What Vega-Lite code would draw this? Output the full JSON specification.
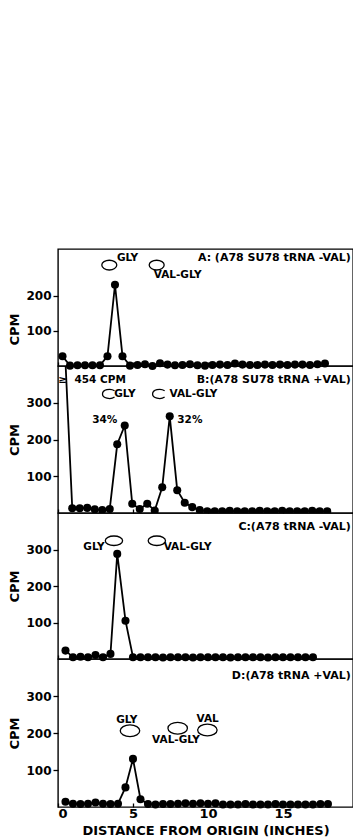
{
  "$schema": "https://vega.github.io/schema/vega-lite/v6.json",
  "autosize": {"type": "pad"},
  "padding": {"left": 8, "top": 248, "right": 0, "bottom": 0},
  "background": "white",
  "spacing": 0,
  "bounds": "flush",
  "datasets": {
    "a": [
      {"x": 0.3, "cpm": 28}, {"x": 0.8, "cpm": 1}, {"x": 1.3, "cpm": 2}, {"x": 1.8, "cpm": 2}, {"x": 2.3, "cpm": 2}, {"x": 2.8, "cpm": 2},
      {"x": 3.3, "cpm": 28}, {"x": 3.8, "cpm": 232}, {"x": 4.3, "cpm": 28}, {"x": 4.8, "cpm": 1}, {"x": 5.3, "cpm": 3}, {"x": 5.8, "cpm": 5},
      {"x": 6.3, "cpm": 0}, {"x": 6.8, "cpm": 8}, {"x": 7.3, "cpm": 4}, {"x": 7.8, "cpm": 2}, {"x": 8.3, "cpm": 3}, {"x": 8.8, "cpm": 5},
      {"x": 9.3, "cpm": 2}, {"x": 9.8, "cpm": 1}, {"x": 10.3, "cpm": 3}, {"x": 10.8, "cpm": 4}, {"x": 11.3, "cpm": 3}, {"x": 11.8, "cpm": 7},
      {"x": 12.3, "cpm": 4}, {"x": 12.8, "cpm": 3}, {"x": 13.3, "cpm": 3}, {"x": 13.8, "cpm": 4}, {"x": 14.3, "cpm": 3}, {"x": 14.8, "cpm": 4},
      {"x": 15.3, "cpm": 3}, {"x": 15.8, "cpm": 4}, {"x": 16.3, "cpm": 4}, {"x": 16.8, "cpm": 3}, {"x": 17.3, "cpm": 5}, {"x": 17.8, "cpm": 7}
    ],
    "b": [
      {"x": 0.45, "cpm": 454}, {"x": 0.95, "cpm": 13}, {"x": 1.45, "cpm": 13}, {"x": 1.95, "cpm": 14}, {"x": 2.45, "cpm": 10}, {"x": 2.95, "cpm": 8},
      {"x": 3.45, "cpm": 11}, {"x": 3.95, "cpm": 187}, {"x": 4.45, "cpm": 238}, {"x": 4.95, "cpm": 25}, {"x": 5.45, "cpm": 11}, {"x": 5.95, "cpm": 25},
      {"x": 6.45, "cpm": 7}, {"x": 6.95, "cpm": 70}, {"x": 7.45, "cpm": 263}, {"x": 7.95, "cpm": 62}, {"x": 8.45, "cpm": 28}, {"x": 8.95, "cpm": 16},
      {"x": 9.45, "cpm": 8}, {"x": 9.95, "cpm": 5}, {"x": 10.45, "cpm": 5}, {"x": 10.95, "cpm": 5}, {"x": 11.45, "cpm": 6}, {"x": 11.95, "cpm": 5},
      {"x": 12.45, "cpm": 5}, {"x": 12.95, "cpm": 5}, {"x": 13.45, "cpm": 6}, {"x": 13.95, "cpm": 5}, {"x": 14.45, "cpm": 5}, {"x": 14.95, "cpm": 6},
      {"x": 15.45, "cpm": 5}, {"x": 15.95, "cpm": 5}, {"x": 16.45, "cpm": 5}, {"x": 16.95, "cpm": 6}, {"x": 17.45, "cpm": 5}, {"x": 17.95, "cpm": 5}
    ],
    "c": [
      {"x": 0.5, "cpm": 23}, {"x": 1.0, "cpm": 5}, {"x": 1.5, "cpm": 6}, {"x": 2.0, "cpm": 5}, {"x": 2.5, "cpm": 11}, {"x": 3.0, "cpm": 5},
      {"x": 3.5, "cpm": 14}, {"x": 3.95, "cpm": 288}, {"x": 4.5, "cpm": 105}, {"x": 5.0, "cpm": 5}, {"x": 5.5, "cpm": 5}, {"x": 6.0, "cpm": 5},
      {"x": 6.5, "cpm": 5}, {"x": 7.0, "cpm": 4}, {"x": 7.5, "cpm": 5}, {"x": 8.0, "cpm": 5}, {"x": 8.5, "cpm": 5}, {"x": 9.0, "cpm": 4},
      {"x": 9.5, "cpm": 5}, {"x": 10.0, "cpm": 5}, {"x": 10.5, "cpm": 5}, {"x": 11.0, "cpm": 5}, {"x": 11.5, "cpm": 4}, {"x": 12.0, "cpm": 5},
      {"x": 12.5, "cpm": 5}, {"x": 13.0, "cpm": 5}, {"x": 13.5, "cpm": 5}, {"x": 14.0, "cpm": 4}, {"x": 14.5, "cpm": 5}, {"x": 15.0, "cpm": 5},
      {"x": 15.5, "cpm": 5}, {"x": 16.0, "cpm": 5}, {"x": 16.5, "cpm": 5}, {"x": 17.0, "cpm": 5}
    ],
    "d": [
      {"x": 0.5, "cpm": 14}, {"x": 1.0, "cpm": 9}, {"x": 1.5, "cpm": 8}, {"x": 2.0, "cpm": 9}, {"x": 2.5, "cpm": 12}, {"x": 3.0, "cpm": 9},
      {"x": 3.5, "cpm": 8}, {"x": 4.0, "cpm": 9}, {"x": 4.5, "cpm": 53}, {"x": 5.0, "cpm": 130}, {"x": 5.5, "cpm": 21}, {"x": 6.0, "cpm": 8},
      {"x": 6.5, "cpm": 7}, {"x": 7.0, "cpm": 8}, {"x": 7.5, "cpm": 8}, {"x": 8.0, "cpm": 9}, {"x": 8.5, "cpm": 10}, {"x": 9.0, "cpm": 9},
      {"x": 9.5, "cpm": 10}, {"x": 10.0, "cpm": 9}, {"x": 10.5, "cpm": 10}, {"x": 11.0, "cpm": 7}, {"x": 11.5, "cpm": 7}, {"x": 12.0, "cpm": 7},
      {"x": 12.5, "cpm": 8}, {"x": 13.0, "cpm": 7}, {"x": 13.5, "cpm": 7}, {"x": 14.0, "cpm": 7}, {"x": 14.5, "cpm": 8}, {"x": 15.0, "cpm": 7},
      {"x": 15.5, "cpm": 7}, {"x": 16.0, "cpm": 7}, {"x": 16.5, "cpm": 7}, {"x": 17.0, "cpm": 7}, {"x": 17.5, "cpm": 8}, {"x": 18.0, "cpm": 8}
    ],
    "a_txt": [
      {"x": 4.64, "cpm": 309, "label": "GLY"},
      {"x": 7.98, "cpm": 259, "label": "VAL-GLY"}
    ],
    "a_spot": [{"x": 3.42, "cpm": 288}, {"x": 6.58, "cpm": 288}],
    "b_txt": [
      {"x": 0.31, "cpm": 363, "label": "≥"},
      {"x": 2.81, "cpm": 363, "label": "454 CPM"},
      {"x": 4.46, "cpm": 324, "label": "GLY"},
      {"x": 9.03, "cpm": 324, "label": "VAL-GLY"},
      {"x": 3.12, "cpm": 252, "label": "34%"},
      {"x": 8.79, "cpm": 252, "label": "32%"}
    ],
    "b_spot": [{"x": 3.42, "cpm": 324}, {"x": 6.76, "cpm": 324}],
    "c_txt": [
      {"x": 2.4, "cpm": 306, "label": "GLY"},
      {"x": 8.64, "cpm": 306, "label": "VAL-GLY"}
    ],
    "c_spot": [{"x": 3.73, "cpm": 324}, {"x": 6.59, "cpm": 324}],
    "d_txt": [
      {"x": 4.59, "cpm": 235, "label": "GLY"},
      {"x": 7.87, "cpm": 181, "label": "VAL-GLY"},
      {"x": 9.98, "cpm": 237, "label": "VAL"}
    ],
    "d_spot": [{"x": 4.8, "cpm": 206}, {"x": 7.98, "cpm": 213}, {"x": 9.96, "cpm": 208}],
    "titles": [
      {"panel": "A", "x": 19.53, "cpm": 309, "label": "A: (A78 SU78 tRNA -VAL)"},
      {"panel": "B", "x": 19.53, "cpm": 363, "label": "B:(A78 SU78 tRNA +VAL)"},
      {"panel": "C", "x": 19.53, "cpm": 362, "label": "C:(A78  tRNA -VAL)"},
      {"panel": "D", "x": 19.53, "cpm": 354, "label": "D:(A78  tRNA +VAL)"}
    ]
  },
  "vconcat": [
    {
      "width": 295, "height": 117,
      "encoding": {
        "x": {"field": "x", "type": "quantitative", "scale": {"domain": [0, 19.67], "nice": false, "zero": false},
              "axis": {"values": [0, 5, 10, 15], "labels": false, "title": null, "domain": false, "tickSize": -4}},
        "y": {"field": "cpm", "type": "quantitative", "scale": {"domain": [0, 334], "nice": false},
              "axis": {"values": [100, 200], "title": "CPM", "titleY": 80, "domain": false, "tickSize": 5}}
      },
      "layer": [
        {"data": {"name": "a"}, "mark": {"type": "line", "color": "black", "strokeWidth": 1.8, "clip": true}},
        {"data": {"name": "a"}, "mark": {"type": "point", "filled": true, "color": "black", "opacity": 1, "size": 65}},
        {"data": {"name": "a_spot"}, "mark": {"type": "point", "filled": false, "stroke": "black", "strokeWidth": 1.3, "opacity": 1, "size": 225, "shape": "M-1,0 A1,0.65 0 1,1 1,0 A1,0.65 0 1,1 -1,0 Z"}},
        {"data": {"name": "a_txt"}, "mark": {"type": "text", "fontWeight": "bold", "fontSize": 10.5, "color": "black"}, "encoding": {"text": {"field": "label"}}},
        {"data": {"name": "titles"}, "transform": [{"filter": "datum.panel == 'A'"}], "mark": {"type": "text", "align": "right", "fontWeight": "bold", "fontSize": 11, "color": "black"}, "encoding": {"text": {"field": "label"}}}
      ]
    },
    {
      "width": 295, "height": 147,
      "encoding": {
        "x": {"field": "x", "type": "quantitative", "scale": {"domain": [0, 19.67], "nice": false, "zero": false},
              "axis": {"values": [0, 5, 10, 15], "labels": false, "title": null, "domain": false, "tickSize": -4}},
        "y": {"field": "cpm", "type": "quantitative", "scale": {"domain": [0, 400], "nice": false},
              "axis": {"values": [100, 200, 300], "title": "CPM", "domain": false, "tickSize": 5}}
      },
      "layer": [
        {"data": {"name": "b"}, "mark": {"type": "line", "color": "black", "strokeWidth": 1.8, "clip": true}},
        {"data": {"name": "b"}, "mark": {"type": "point", "filled": true, "color": "black", "opacity": 1, "size": 65, "clip": true}},
        {"data": {"name": "b_spot"}, "mark": {"type": "point", "filled": false, "stroke": "black", "strokeWidth": 1.3, "opacity": 1, "size": 196, "shape": "M0.75,-0.45 A1,0.65 0 1,0 0.75,0.45"}},
        {"data": {"name": "b_txt"}, "mark": {"type": "text", "fontWeight": "bold", "fontSize": 10.5, "color": "black"}, "encoding": {"text": {"field": "label"}}},
        {"data": {"name": "titles"}, "transform": [{"filter": "datum.panel == 'B'"}], "mark": {"type": "text", "align": "right", "fontWeight": "bold", "fontSize": 11, "color": "black"}, "encoding": {"text": {"field": "label"}}}
      ]
    },
    {
      "width": 295, "height": 146,
      "encoding": {
        "x": {"field": "x", "type": "quantitative", "scale": {"domain": [0, 19.67], "nice": false, "zero": false},
              "axis": {"values": [0, 5, 10, 15], "labels": false, "title": null, "domain": false, "tickSize": -4}},
        "y": {"field": "cpm", "type": "quantitative", "scale": {"domain": [0, 400], "nice": false},
              "axis": {"values": [100, 200, 300], "title": "CPM", "domain": false, "tickSize": 5}}
      },
      "layer": [
        {"data": {"name": "c"}, "mark": {"type": "line", "color": "black", "strokeWidth": 1.8, "clip": true}},
        {"data": {"name": "c"}, "mark": {"type": "point", "filled": true, "color": "black", "opacity": 1, "size": 65}},
        {"data": {"name": "c_spot"}, "mark": {"type": "point", "filled": false, "stroke": "black", "strokeWidth": 1.3, "opacity": 1, "size": 300, "shape": "M-1,0 A1,0.55 0 1,1 1,0 A1,0.55 0 1,1 -1,0 Z"}},
        {"data": {"name": "c_txt"}, "mark": {"type": "text", "fontWeight": "bold", "fontSize": 10.5, "color": "black"}, "encoding": {"text": {"field": "label"}}},
        {"data": {"name": "titles"}, "transform": [{"filter": "datum.panel == 'C'"}], "mark": {"type": "text", "align": "right", "fontWeight": "bold", "fontSize": 11, "color": "black"}, "encoding": {"text": {"field": "label"}}}
      ]
    },
    {
      "width": 295, "height": 148,
      "encoding": {
        "x": {"field": "x", "type": "quantitative", "scale": {"domain": [0, 19.67], "nice": false, "zero": false},
              "axis": {"values": [0, 5, 10, 15], "title": "DISTANCE FROM ORIGIN (INCHES)", "domain": false, "tickSize": -4, "labelFontSize": 13, "labelPadding": 4, "titleFontSize": 13, "titlePadding": 4}},
        "y": {"field": "cpm", "type": "quantitative", "scale": {"domain": [0, 400], "nice": false},
              "axis": {"values": [100, 200, 300], "title": "CPM", "domain": false, "tickSize": 5}}
      },
      "layer": [
        {"data": {"name": "d"}, "mark": {"type": "line", "color": "black", "strokeWidth": 1.8, "clip": true}},
        {"data": {"name": "d"}, "mark": {"type": "point", "filled": true, "color": "black", "opacity": 1, "size": 65}},
        {"data": {"name": "d_spot"}, "mark": {"type": "point", "filled": false, "stroke": "black", "strokeWidth": 1.3, "opacity": 1, "size": 380, "shape": "M-1,0 A1,0.6 0 1,1 1,0 A1,0.6 0 1,1 -1,0 Z"}},
        {"data": {"name": "d_txt"}, "mark": {"type": "text", "fontWeight": "bold", "fontSize": 10.5, "color": "black"}, "encoding": {"text": {"field": "label"}}},
        {"data": {"name": "titles"}, "transform": [{"filter": "datum.panel == 'D'"}], "mark": {"type": "text", "align": "right", "fontWeight": "bold", "fontSize": 11, "color": "black"}, "encoding": {"text": {"field": "label"}}}
      ]
    }
  ],
  "config": {
    "font": "DejaVu Sans",
    "view": {"stroke": "black", "strokeWidth": 1.4},
    "axis": {"labelFontWeight": "bold", "labelColor": "black", "labelFontSize": 12, "titleFontWeight": "bold", "titleColor": "black", "titleFontSize": 13, "tickColor": "black", "tickWidth": 1.3, "grid": false, "labelPadding": 2, "titlePadding": 4}
  }
}
